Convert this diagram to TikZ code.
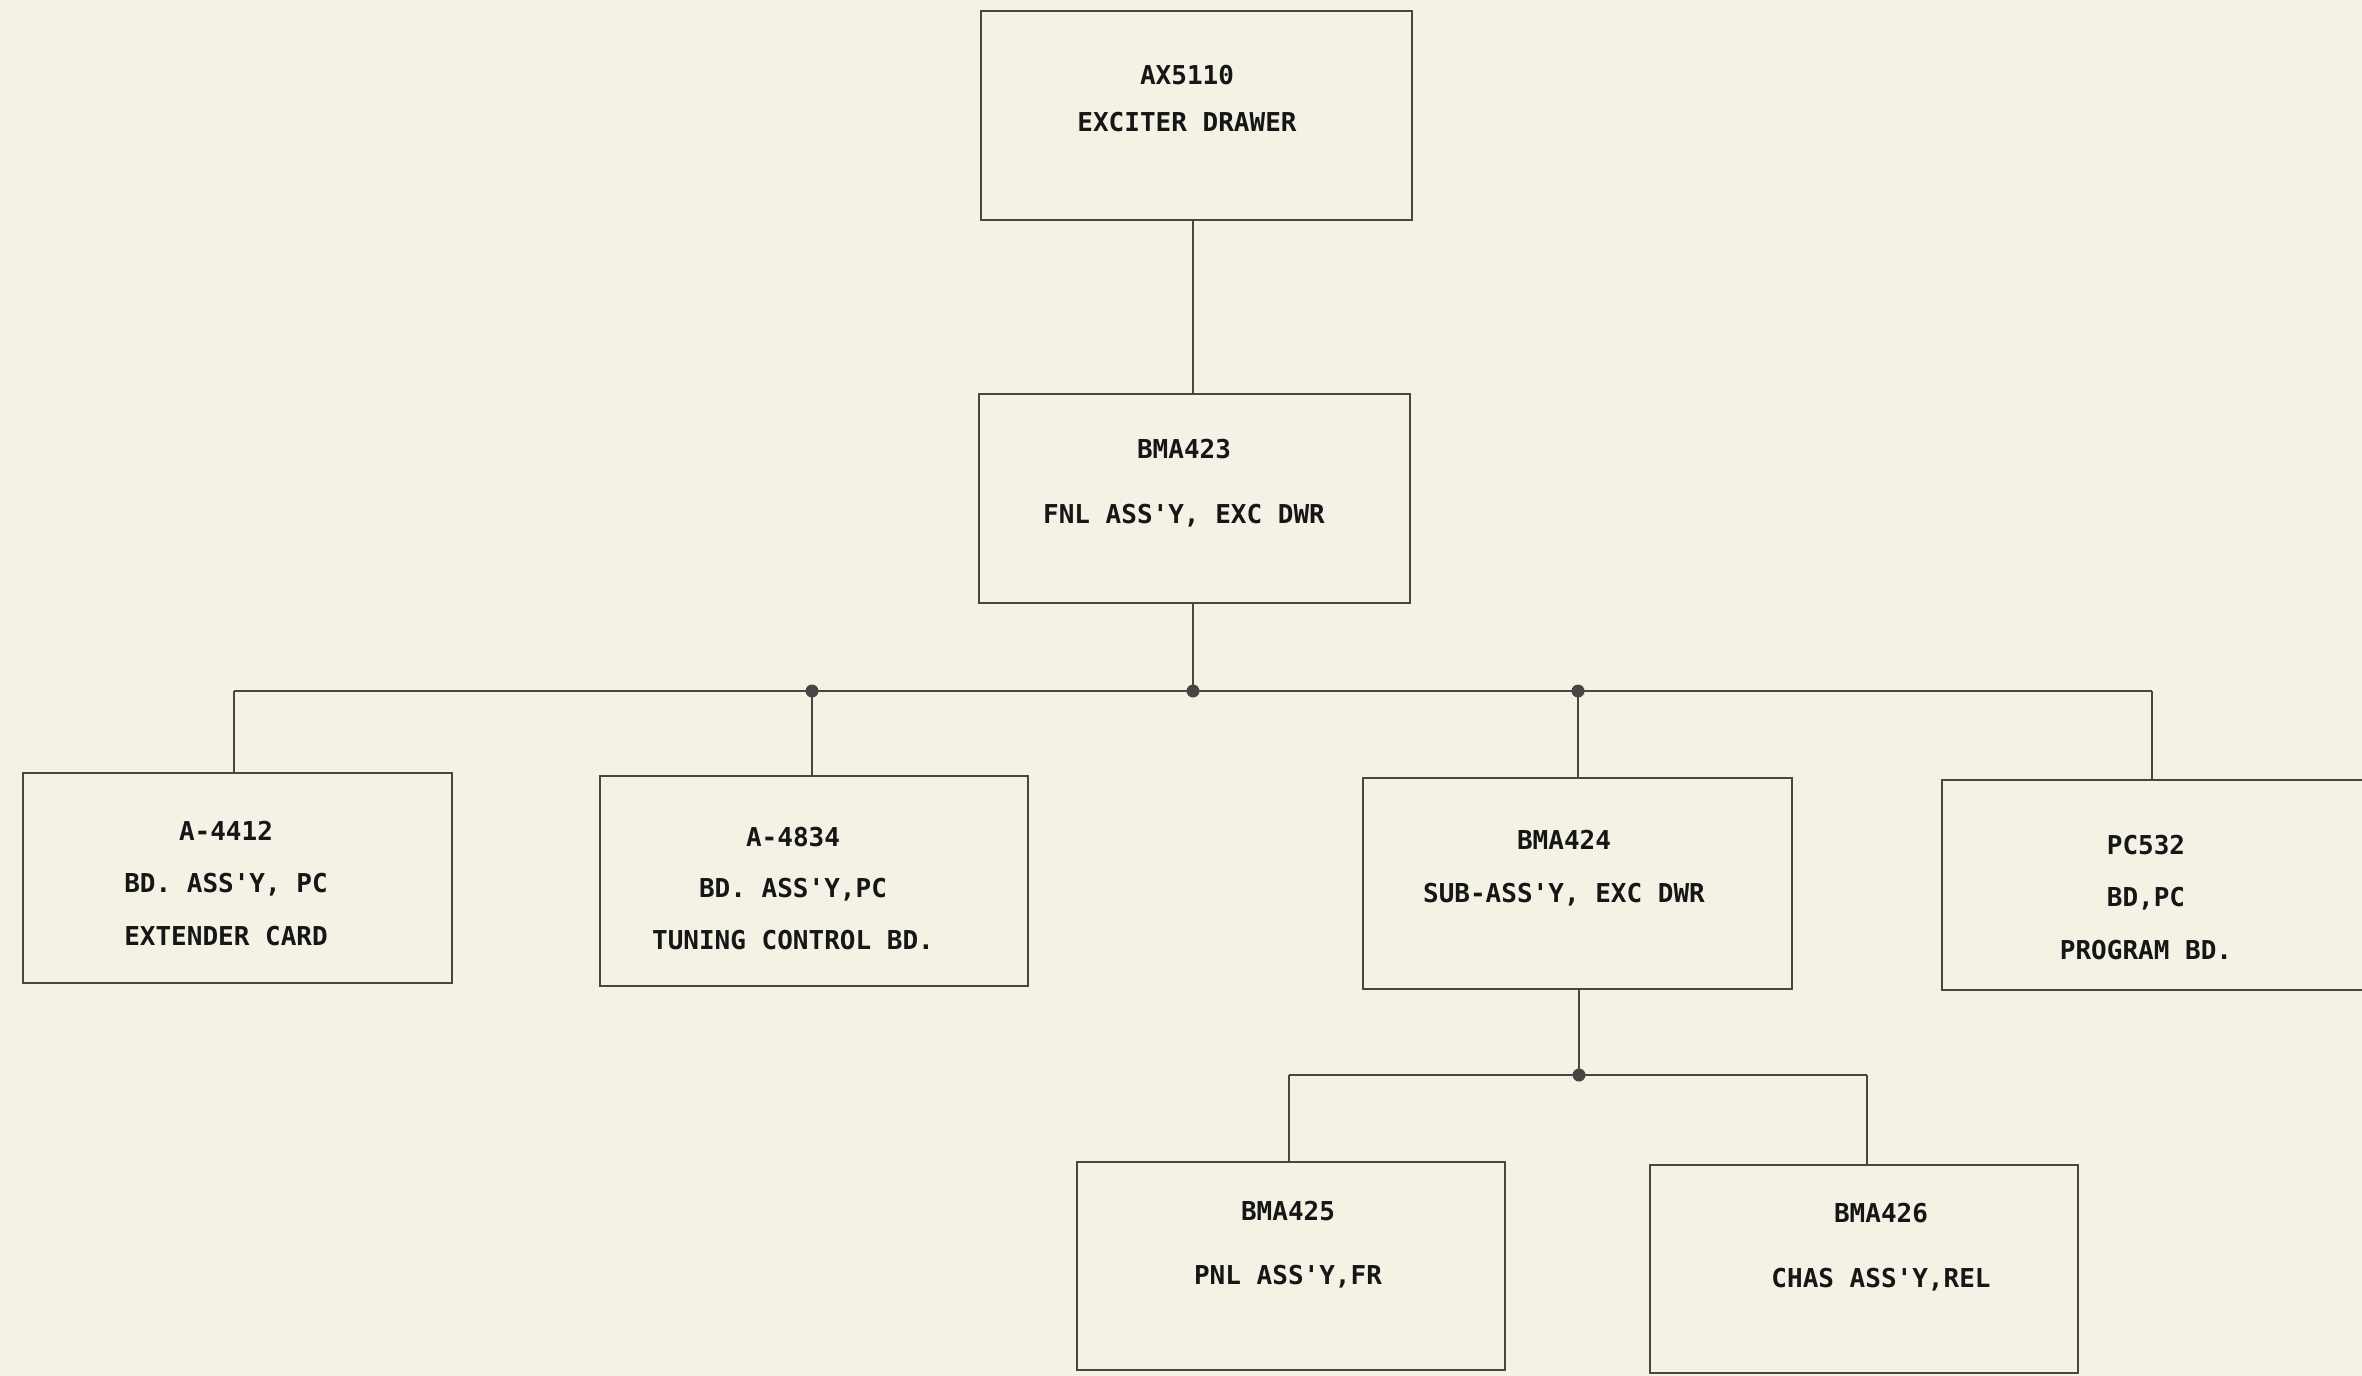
\documentclass[tikz,border=0pt]{standalone}
\usepackage{fontspec}
\newfontfamily\lettering{DejaVu Sans Mono}
\definecolor{paper}{RGB}{244,242,229}
\definecolor{pencil}{RGB}{72,70,68}
\definecolor{ink}{RGB}{22,22,22}
\tikzset{
  box/.style={draw=pencil, line width=1.4pt, rectangle, inner sep=0pt, outer sep=0pt},
  wire/.style={draw=pencil, line width=1.25pt},
  junction/.style={circle, fill=pencil, inner sep=0pt, minimum size=6.5pt},
  lbl/.style={text=ink, align=center, inner sep=0pt},
}
\newcommand{\lsk}[1]{\lettering\bfseries\fontsize{13}{#1}\selectfont}
\begin{document}
\begin{tikzpicture}[x=0.5pt, y=-0.5pt]
\fill[paper] (0,0) rectangle (2362,1376);
\useasboundingbox (0,0) rectangle (2362,1376);
\clip (0,0) rectangle (2362,1376);

% boxes
\node[box, minimum width=215.5pt, minimum height=104.5pt] (ax) at (1196.5,115.5) {};
\node[box, minimum width=215.5pt, minimum height=104.5pt] (b423) at (1194.5,498.5) {};
\node[box, minimum width=214.5pt, minimum height=105pt] (a4412) at (237.5,878) {};
\node[box, minimum width=214pt, minimum height=105pt] (a4834) at (814,881) {};
\node[box, minimum width=214.5pt, minimum height=105.5pt] (b424) at (1577.5,883.5) {};
\node[box, minimum width=215pt, minimum height=105pt] (pc532) at (2157,885) {};
\node[box, minimum width=214pt, minimum height=104pt] (b425) at (1291,1266) {};
\node[box, minimum width=214pt, minimum height=104pt] (b426) at (1864,1269) {};

% labels
\node[lbl, font={\lsk{23.5pt}}] (tax) at (1187,98.5) {AX5110\\EXCITER DRAWER};
\node[lbl, font={\lsk{32.5pt}}] (t423) at (1184,483.5) {BMA423\\FNL ASS'Y, EXC DWR};
\node[lbl, font={\lsk{26.25pt}}] (t4412) at (226,883.5) {A-4412\\BD. ASS'Y, PC\\EXTENDER CARD};
\node[lbl, font={\lsk{25.75pt}}] (t4834) at (793,888.5) {A-4834\\BD. ASS'Y,PC\\TUNING CONTROL BD.};
\node[lbl, font={\lsk{26.5pt}}] (t424) at (1564,868.5) {BMA424\\SUB-ASS'Y, EXC DWR};
\node[lbl, font={\lsk{26.25pt}}] (t532) at (2146,897.5) {PC532\\BD,PC\\PROGRAM BD.};
\node[lbl, font={\lsk{32pt}}] (t425) at (1288,1245) {BMA425\\PNL ASS'Y,FR};
\node[lbl, font={\lsk{32.5pt}}] (t426) at (1881,1247.5) {BMA426\\CHAS ASS'Y,REL};

% junction coordinates
\coordinate (busL) at (234,691);
\coordinate (busR) at (2152,691);
\node[junction] (j1) at (812,691) {};
\node[junction] (j0) at (1193,691) {};
\node[junction] (j2) at (1578,691) {};
\coordinate (subL) at (1289,1075);
\coordinate (subR) at (1867,1075);
\node[junction] (j3) at (1579,1075) {};

% connectors
\draw[wire] (ax.south -| j0) -- (b423.north -| j0);
\draw[wire] (b423.south -| j0) -- (j0.center);
\draw[wire] (busL) -- (busR);
\draw[wire] (busL) -- (busL |- a4412.north);
\draw[wire] (j1.center) -- (j1.center |- a4834.north);
\draw[wire] (j2.center) -- (j2.center |- b424.north);
\draw[wire] (busR) -- (busR |- pc532.north);
\draw[wire] (b424.south -| j3) -- (j3.center);
\draw[wire] (subL) -- (subR);
\draw[wire] (subL) -- (subL |- b425.north);
\draw[wire] (subR) -- (subR |- b426.north);
\end{tikzpicture}
\end{document}
